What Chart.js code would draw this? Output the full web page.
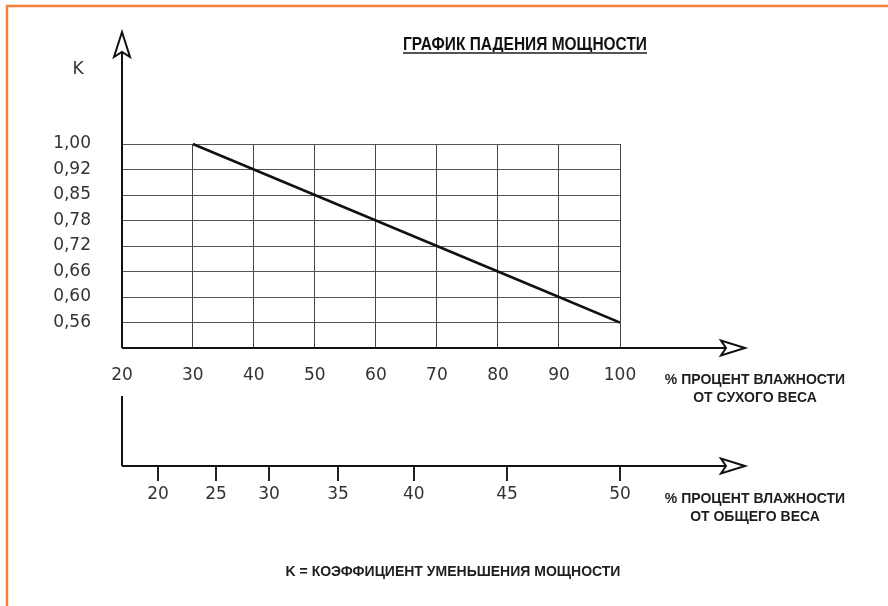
<!DOCTYPE html>
<html lang="ru">
<head>
<meta charset="utf-8">
<title>График падения мощности</title>
<script src="https://cdn.jsdelivr.net/npm/chart.js@4.4.1/dist/chart.umd.min.js"></script>
<style>
  html, body { margin: 0; padding: 0; background: #fff; }
  #wrap { position: relative; width: 888px; height: 606px; }
</style>
</head>
<body>
<div id="wrap"><canvas id="powerChart"></canvas></div>
<script>
// Moisture, % of dry weight (x of the line)
const dryMoisture = [30, 40, 50, 60, 70, 80, 90, 100];
// K = power reduction coefficient
const kValues = [1.00, 0.92, 0.85, 0.78, 0.72, 0.66, 0.60, 0.56];

// Tick labels of the upper axis (% of dry weight)
const dryTicks = [20, 30, 40, 50, 60, 70, 80, 90, 100];
// Tick labels of the lower axis (% of total weight)
const totalTicks = [20, 25, 30, 35, 40, 45, 50];
// where those lower ticks sit on the dry weight scale
const totalTicksOnDry = [24.3, 33.8, 42.5, 53.8, 66.2, 81.5, 100];

// the drawing's origin on the dry weight scale - "20" is printed right there
const xOrigin = 18.4;

const fmtK = v => v.toFixed(2).replace('.', ',');
// K rows are evenly spaced in the drawing, so the y axis is a category axis
const yLabels = kValues.map(fmtK).concat(['']);

const TEXT = '#1e1e1e';
const BOLD = '"Liberation Sans", Arial, sans-serif';

Chart.defaults.font.family = '"DejaVu Sans", sans-serif';
Chart.defaults.font.size = 17;
Chart.defaults.color = '#333';

// Axes with arrows, axis titles, frame
const drawingExtras = {
    id: 'drawingExtras',
    afterDraw(chart) {
        const { ctx, chartArea: a, scales } = chart;
        const x0 = a.left;
        const y1 = a.bottom;
        const y2 = scales.x2.top;
        const tipX = a.right + 125;
        const tipY = a.top - 112;

        ctx.save();
        ctx.strokeStyle = '#111';
        ctx.lineWidth = 2;
        ctx.lineCap = 'butt';

        const line = (ax, ay, bx, by) => {
            ctx.beginPath();
            ctx.moveTo(ax, ay);
            ctx.lineTo(bx, by);
            ctx.stroke();
        };
        const arrowRight = (tx, ty) => {
            ctx.beginPath();
            ctx.moveTo(tx, ty);
            ctx.lineTo(tx - 24, ty - 7.5);
            ctx.lineTo(tx - 19, ty);
            ctx.lineTo(tx - 24, ty + 7.5);
            ctx.closePath();
            ctx.fillStyle = '#fff';
            ctx.fill();
            ctx.stroke();
        };
        const arrowUp = (tx, ty) => {
            ctx.beginPath();
            ctx.moveTo(tx, ty);
            ctx.lineTo(tx - 8, ty + 25);
            ctx.lineTo(tx, ty + 20);
            ctx.lineTo(tx + 8, ty + 25);
            ctx.closePath();
            ctx.fillStyle = '#fff';
            ctx.fill();
            ctx.stroke();
        };

        // K axis
        line(x0, y1, x0, tipY + 20);
        arrowUp(x0, tipY);
        // % of dry weight axis
        line(x0, y1, tipX - 19, y1);
        arrowRight(tipX, y1);
        // % of total weight axis
        line(x0, y1 + 48, x0, y2);
        line(x0, y2, tipX - 19, y2);
        arrowRight(tipX, y2);

        // texts
        ctx.textAlign = 'center';
        ctx.textBaseline = 'middle';

        ctx.font = '17px "DejaVu Sans", sans-serif';
        ctx.fillStyle = '#333';
        ctx.fillText('K', 78, 70);

        // title in a condensed heavy face: squeeze the bold sans to width
        ctx.fillStyle = '#111';
        const title = 'ГРАФИК ПАДЕНИЯ МОЩНОСТИ';
        ctx.font = 'bold 18px ' + BOLD;
        const tw = ctx.measureText(title).width;
        const titleW = 244;
        ctx.save();
        ctx.translate(525, 45);
        ctx.scale(titleW / tw, 1);
        ctx.fillText(title, 0, 0);
        ctx.restore();
        ctx.lineWidth = 2;
        ctx.strokeStyle = '#555';
        line(525 - titleW / 2, 53, 525 + titleW / 2, 53);

        ctx.fillStyle = TEXT;
        ctx.font = 'bold 14px ' + BOLD;
        ctx.fillText('% ПРОЦЕНТ ВЛАЖНОСТИ', 755, 380);
        ctx.fillText('ОТ СУХОГО ВЕСА', 755, 398);
        ctx.fillText('% ПРОЦЕНТ ВЛАЖНОСТИ', 755, 499);
        ctx.fillText('ОТ ОБЩЕГО ВЕСА', 755, 517);
        ctx.fillText('K = КОЭФФИЦИЕНТ УМЕНЬШЕНИЯ МОЩНОСТИ', 453, 572);

        // orange frame (top and left edges)
        ctx.strokeStyle = '#f47f3c';
        ctx.lineWidth = 2.5;
        ctx.beginPath();
        ctx.moveTo(888, 6);
        ctx.lineTo(7, 6);
        ctx.lineTo(7, 606);
        ctx.stroke();

        ctx.restore();
    }
};

const ctx = document.getElementById('powerChart').getContext('2d');
const powerChart = new Chart(ctx, {
    type: 'line',
    data: {
        datasets: [{
            label: 'K',
            data: dryMoisture.map((x, i) => ({ x, y: fmtK(kValues[i]) })),
            borderColor: '#111',
            borderWidth: 2.5,
            pointRadius: 0,
            tension: 0,
            fill: false
        }]
    },
    options: {
        responsive: true,
        maintainAspectRatio: false,
        animation: false,
        layout: {
            padding: { top: 144, right: 268, bottom: 0, left: 0 }
        },
        plugins: {
            legend: { display: false },
            tooltip: { enabled: false }
        },
        scales: {
            x: {
                type: 'linear',
                position: 'bottom',
                min: xOrigin,
                max: 100,
                afterBuildTicks: scale => {
                    scale.ticks = dryTicks.map((v, i) => ({ value: i === 0 ? xOrigin : v }));
                },
                ticks: {
                    callback: (value, index) => dryTicks[index],
                    padding: 17,
                    autoSkip: false,
                    maxRotation: 0
                },
                grid: { color: '#444', lineWidth: 1, drawTicks: false },
                border: { display: false },
                afterFit: scale => { scale.height = 118; }
            },
            x2: {
                type: 'linear',
                position: 'bottom',
                min: xOrigin,
                max: 100,
                afterBuildTicks: scale => {
                    scale.ticks = totalTicksOnDry.map(v => ({ value: v }));
                },
                ticks: {
                    callback: (value, index) => totalTicks[index],
                    padding: 3,
                    autoSkip: false,
                    maxRotation: 0
                },
                grid: { drawOnChartArea: false, drawTicks: true, tickLength: 15, color: '#222', lineWidth: 2 },
                border: { display: false },
                afterFit: scale => { scale.height = 140; }
            },
            y: {
                type: 'category',
                labels: yLabels,
                offset: false,
                ticks: { padding: 31, autoSkip: false },
                grid: { color: '#555', lineWidth: 1, drawTicks: false },
                border: { display: false },
                afterFit: scale => { scale.width = 122; }
            }
        }
    },
    plugins: [drawingExtras]
});
</script>
</body>
</html>
